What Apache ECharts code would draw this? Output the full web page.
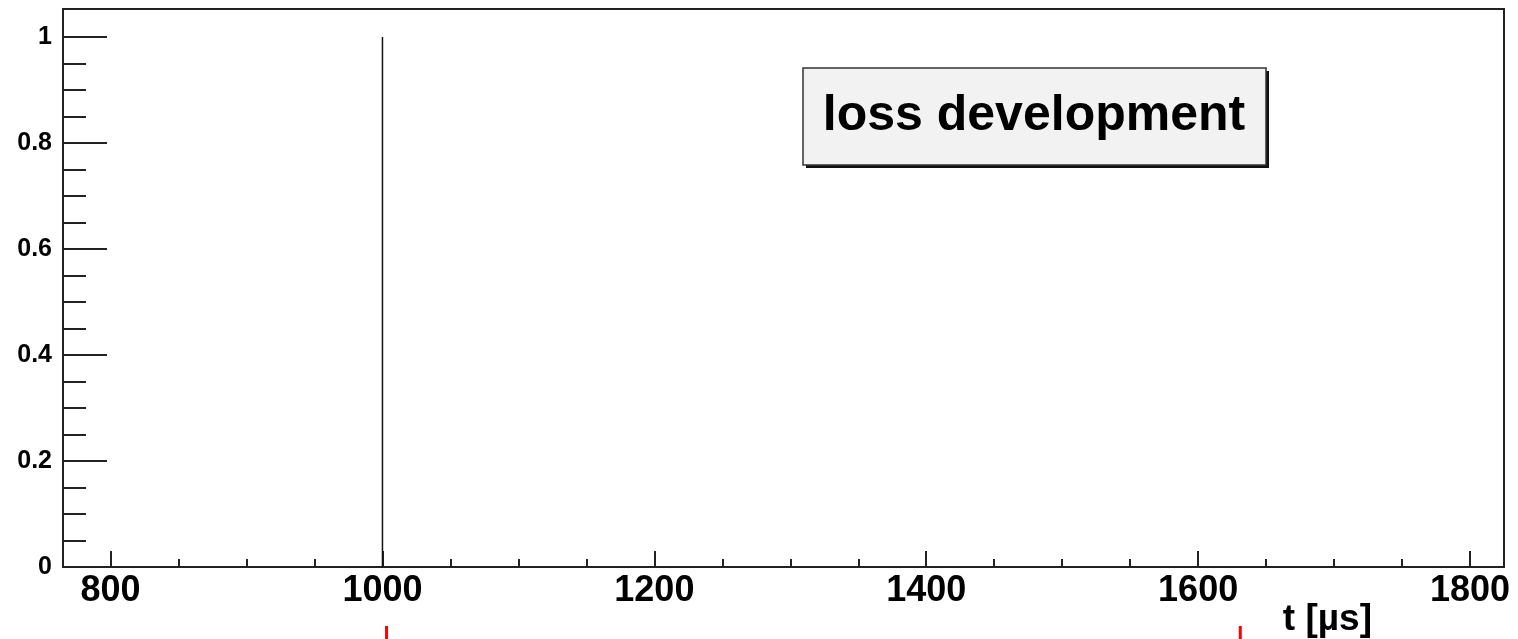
<!DOCTYPE html>
<html>
<head>
<meta charset="utf-8">
<script src="https://cdn.jsdelivr.net/npm/echarts@6/dist/echarts.min.js"></script>
<style>
html,body{margin:0;padding:0;background:#fff;}
#chart{width:1518px;height:639px;}
</style>
</head>
<body>
<div id="chart"></div>
<script>
// ---- data ----
const lossTimes = [1000];          // t [µs] of loss pulses
const lossValues = [1];            // normalised loss amplitude
const xMajorTicks = [800, 1000, 1200, 1400, 1600, 1800];
const xMinorTicks = [800, 850, 900, 950, 1000, 1050, 1100, 1150, 1200, 1250, 1300, 1350, 1400, 1450, 1500, 1550, 1600, 1650, 1700, 1750, 1800];
const yMajorTicks = [0, 0.2, 0.4, 0.6, 0.8, 1];
const yMinorTicks = [0, 0.05, 0.1, 0.15, 0.2, 0.25, 0.3, 0.35, 0.4, 0.45, 0.5, 0.55, 0.6, 0.65, 0.7, 0.75, 0.8, 0.85, 0.9, 0.95, 1];
const markerTimes = [1003, 1631];  // red markers below the axis
const titleText = 'loss development';
const xName = 't [\u00b5s]';

const xMin = 765, xMax = 1825, yMin = 0, yMax = 1.0528;

const chart = echarts.init(document.getElementById('chart'), null, {renderer: 'canvas'});
const FONT = 'Liberation Sans, Arial, Helvetica, sans-serif';

const lineData = [];
lossTimes.forEach((t, i) => {
  lineData.push([t, 0], [t, lossValues[i]], [t, null]);
});

const option = {
  animation: false,
  backgroundColor: '#ffffff',
  grid: {
    left: 63, right: 14, top: 9, bottom: 72,
    show: true, borderColor: '#222', borderWidth: 2, backgroundColor: 'transparent'
  },
  xAxis: [
    {
      type: 'value', min: xMin, max: xMax, position: 'bottom',
      axisLine: {show: true, onZero: false, lineStyle: {color: '#222', width: 2}},
      axisTick: {show: true, inside: true, length: 16, customValues: xMajorTicks, lineStyle: {color: '#222', width: 2}},
      axisLabel: {show: true, customValues: xMajorTicks, margin: 6, color: '#000', fontFamily: FONT, fontWeight: 'bold', fontSize: 36,
        formatter: v => String(v)},
      splitLine: {show: false},
      name: xName, nameLocation: 'end', nameGap: -132,
      nameTextStyle: {color: '#000', fontFamily: FONT, fontWeight: 'bold', fontSize: 37, align: 'right', verticalAlign: 'top', padding: [34, 0, 0, 0]}
    },
    {
      type: 'value', min: xMin, max: xMax, position: 'bottom',
      axisLine: {show: false, onZero: false},
      axisTick: {show: true, inside: true, length: 8, customValues: xMinorTicks, lineStyle: {color: '#222', width: 2}},
      axisLabel: {show: false},
      splitLine: {show: false}
    }
  ],
  yAxis: [
    {
      type: 'value', min: yMin, max: yMax, position: 'left',
      axisLine: {show: true, onZero: false, lineStyle: {color: '#222', width: 2}},
      axisTick: {show: true, inside: true, length: 44, customValues: yMajorTicks, lineStyle: {color: '#222', width: 2}},
      axisLabel: {show: true, customValues: yMajorTicks, margin: 11, color: '#000', fontFamily: FONT, fontWeight: 'bold', fontSize: 25,
        formatter: v => String(Math.round(v * 10) / 10)},
      splitLine: {show: false}
    },
    {
      type: 'value', min: yMin, max: yMax, position: 'left',
      axisLine: {show: false, onZero: false},
      axisTick: {show: true, inside: true, length: 23, customValues: yMinorTicks, lineStyle: {color: '#222', width: 2}},
      axisLabel: {show: false},
      splitLine: {show: false}
    }
  ],
  series: [
    {
      type: 'line', xAxisIndex: 0, yAxisIndex: 0,
      data: lineData, showSymbol: false, symbol: 'none', connectNulls: false,
      lineStyle: {color: '#111', width: 1.5}
    }
  ]
};
chart.setOption(option);

// title box and markers
const graphics = [
  {type: 'rect', shape: {x: 806, y: 71, width: 463, height: 97}, style: {fill: '#111'}, z: 100},
  {type: 'rect', shape: {x: 803, y: 68, width: 463, height: 97}, style: {fill: '#f2f2f2', stroke: '#333', lineWidth: 1.5}, z: 101},
  {type: 'text', x: 1034, y: 116, style: {text: titleText, fill: '#000', font: 'bold 50px ' + FONT, align: 'center', verticalAlign: 'middle'}, z: 102}
];
markerTimes.forEach(t => {
  const px = chart.convertToPixel({xAxisIndex: 0}, t);
  graphics.push({type: 'rect', shape: {x: px - 1.5, y: 626, width: 3, height: 13}, style: {fill: '#ff0000'}, z: 100});
});
chart.setOption({graphic: graphics});
</script>
</body>
</html>
